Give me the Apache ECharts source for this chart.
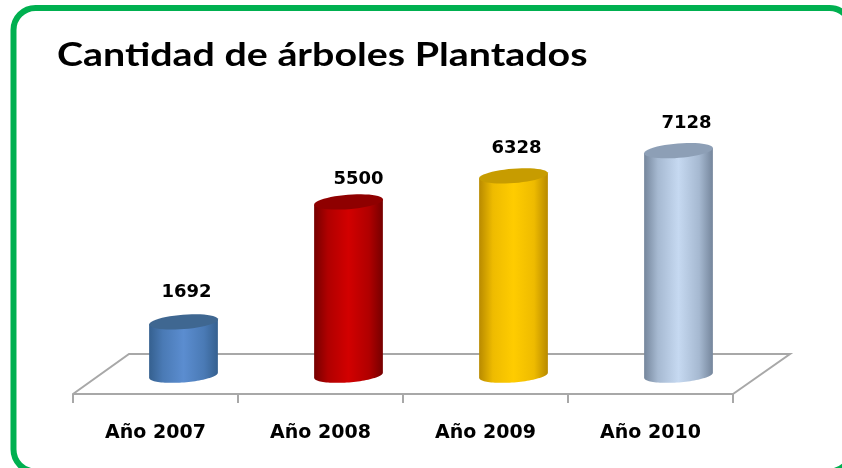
<!DOCTYPE html>
<html><head><meta charset="utf-8">
<style>html,body{margin:0;padding:0;background:#fff}#c{width:842px;height:468px}</style>
<script src="https://cdn.jsdelivr.net/npm/echarts@6/dist/echarts.min.js"></script>
</head><body><div id="c"></div>
<script>
const categories = ['Año 2007','Año 2008','Año 2009','Año 2010'];
const values = [1692,5500,6328,7128];
const sideEdge = ['#35608f','#760000','#b88a00','#75869c'];
const sideNear = ['#4a7ab5','#b00000','#eebb00','#a6b9d1'];
const sideMid = ['#5b8dd0','#d20000','#ffcc00','#c6d9f1'];
const topFill = ['#3f6791','#8f0000','#c79c00','#8d9fb6'];
const labelDx = [3,10,3,8];
const labelDy = [-2,5,0,1];
const title = 'Cantidad de árboles Plantados';

const DEPTH_X = 56, DEPTH_Y = 40;
const chart = echarts.init(document.getElementById('c'), null, {renderer:'canvas'});

function ellipsePts(cx, cy, a, b, t0, t1) {
  const tilt = -4.5 * Math.PI / 180, pts = [];
  for (let i = 0; i <= 48; i++) {
    const t = t0 + (t1 - t0) * i / 48;
    const ex = a * Math.cos(t), ey = b * Math.sin(t);
    pts.push([cx + ex * Math.cos(tilt) - ey * Math.sin(tilt), cy + ex * Math.sin(tilt) + ey * Math.cos(tilt)]);
  }
  return pts;
}

function renderFloor(params) {
  const g = params.coordSys, y0 = g.y + g.height, x1 = g.x + g.width;
  return {type:'polyline', silent:true, shape:{points:[
    [g.x, y0],[g.x + DEPTH_X, y0 - DEPTH_Y],[x1 + DEPTH_X + 1, y0 - DEPTH_Y],[x1, y0]
  ]}, style:{fill:'none', stroke:'#a8a8a8', lineWidth:2}};
}

function renderCyl(params, api) {
  const i = api.value(0);
  const base = api.coord([i, 0]), top = api.coord([i, api.value(1)]);
  const a = api.size([1,0])[0] * 0.209;
  const ox = DEPTH_X * 0.5, oy = -18.8;
  const cx = base[0] + ox, by = base[1] + oy, ty = top[1] + oy;
  const b = 7.2;
  const lower = ellipsePts(cx, by, a, b, 0, Math.PI);
  const topRing = ellipsePts(cx, ty, a, b, 0, 2 * Math.PI);
  const side = lower.concat([topRing[24], topRing[0]]);
  const grad = new echarts.graphic.LinearGradient(0,0,1,0,[
    {offset:0,color:sideEdge[i]},{offset:0.2,color:sideNear[i]},{offset:0.5,color:sideMid[i]},
    {offset:0.8,color:sideNear[i]},{offset:1,color:sideEdge[i]}]);
  return {type:'group', children:[
    {type:'polygon', shape:{points:side}, style:{fill:grad}},
    {type:'polygon', shape:{points:topRing}, style:{fill:topFill[i]}},
    {type:'text', style:{text:String(api.value(1)), x:cx + labelDx[i], y:ty - 19 + labelDy[i], align:'center', verticalAlign:'bottom',
      fill:'#000', font:'bold 18px "DejaVu Sans"'}}
  ]};
}

chart.setOption({
  animation:false,
  backgroundColor:'#fff',
  graphic:[
    {type:'rect', silent:true, z:-1, shape:{x:13.5,y:8,width:838,height:463.5,r:22}, style:{fill:'#fff',stroke:'#00b050',lineWidth:6}},
    {type:'text', silent:true, z:5, x:57, y:56, scaleX:1.23, style:{text:title, fill:'#000', font:'bold 32px Lato', verticalAlign:'middle', align:'left'}}
  ],
  grid:{left:73, right:109, top:142, bottom:74},
  xAxis:{type:'category', data:categories,
    axisLine:{lineStyle:{color:'#a8a8a8',width:2}},
    axisTick:{show:true, length:9, lineStyle:{color:'#a8a8a8',width:2}},
    axisLabel:{color:'#000', fontFamily:'DejaVu Sans', fontWeight:'bold', fontSize:19, margin:30}},
  yAxis:{type:'value', min:0, max:8000, show:false},
  series:[
    {type:'custom', coordinateSystem:'cartesian2d', data:[[0,0]], renderItem:renderFloor, silent:true, z:1},
    {type:'custom', coordinateSystem:'cartesian2d', data:values.map((v,i)=>[i,v]), renderItem:renderCyl, encode:{x:0,y:1}, z:2}
  ]
});
</script></body></html>
